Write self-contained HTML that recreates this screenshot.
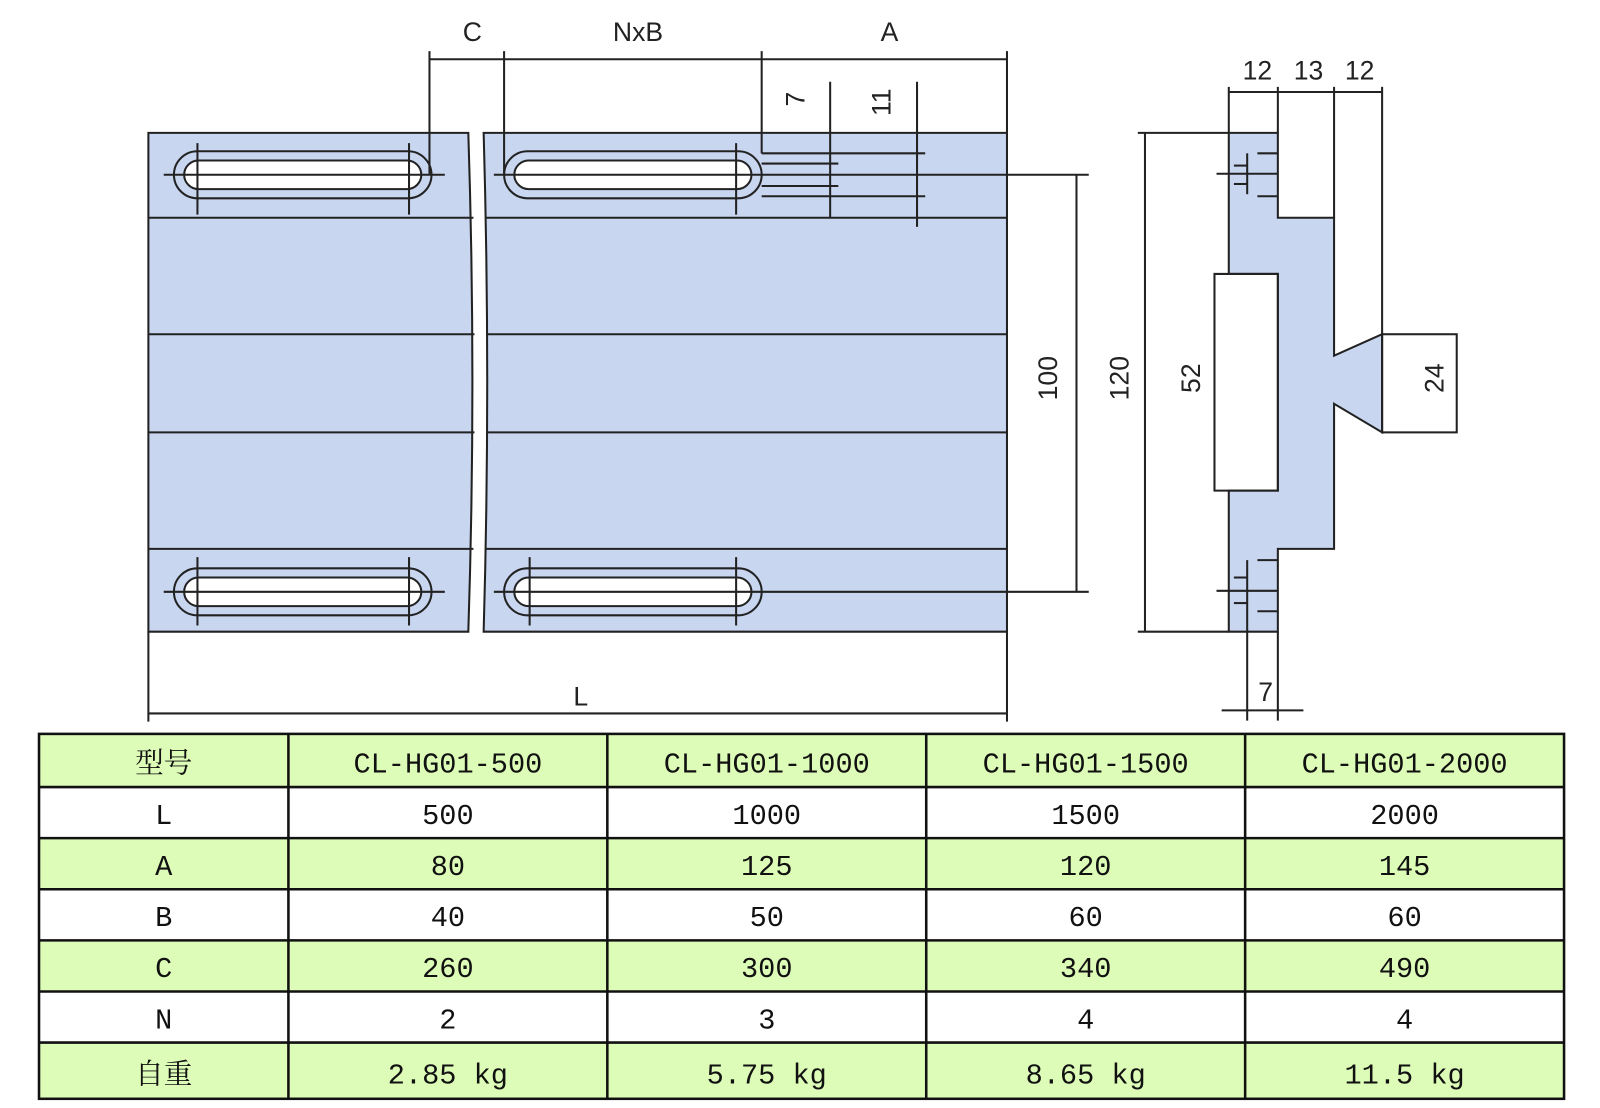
<!DOCTYPE html>
<html><head><meta charset="utf-8"><style>
html,body{margin:0;padding:0;background:#fff;}
svg{display:block;}
.d{font-family:"Liberation Sans",sans-serif;font-size:26px;fill:#222;}
.t{font-family:"Liberation Mono","Noto Serif CJK SC",monospace;font-size:28px;fill:#111;}
</style></head><body>
<svg width="1600" height="1108" viewBox="0 0 1565 1084" xmlns="http://www.w3.org/2000/svg">
<rect width="1565" height="1084" fill="#fff"/>
<g stroke="#222" stroke-width="2" fill="none">
<path d="M145,130 H458 Q466,374 458,618 H145 Z" fill="#c8d6f0"/>
<path d="M473,130 H985 V618 H473 Q480,374 473,130 Z" fill="#c8d6f0"/>
<line x1="145" y1="213" x2="463" y2="213"/><line x1="475" y1="213" x2="985" y2="213"/>
<line x1="145" y1="327" x2="464" y2="327"/><line x1="476" y1="327" x2="985" y2="327"/>
<line x1="145" y1="423" x2="464" y2="423"/><line x1="476" y1="423" x2="985" y2="423"/>
<line x1="145" y1="537" x2="463" y2="537"/><line x1="475" y1="537" x2="985" y2="537"/>
<g>
<rect x="170" y="148" width="252" height="46" rx="23"/><rect x="180" y="157" width="232" height="28" rx="14" fill="#fff"/>
<rect x="493" y="148" width="252" height="46" rx="23"/><rect x="503" y="157" width="232" height="28" rx="14" fill="#fff"/>
<rect x="170" y="556" width="252" height="46" rx="23"/><rect x="180" y="565" width="232" height="28" rx="14" fill="#fff"/>
<rect x="493" y="556" width="252" height="46" rx="23"/><rect x="503" y="565" width="232" height="28" rx="14" fill="#fff"/>
</g>
<line x1="160" y1="171" x2="435" y2="171"/><line x1="483" y1="171" x2="1065" y2="171"/>
<line x1="160" y1="579" x2="435" y2="579"/><line x1="483" y1="579" x2="1065" y2="579"/>
<line x1="193" y1="140" x2="193" y2="210"/><line x1="400" y1="140" x2="400" y2="210"/>
<line x1="720" y1="140" x2="720" y2="210"/>
<line x1="193" y1="545" x2="193" y2="612"/><line x1="400" y1="545" x2="400" y2="612"/>
<line x1="518" y1="545" x2="518" y2="612"/><line x1="720" y1="545" x2="720" y2="612"/>
<line x1="420" y1="58" x2="985" y2="58"/>
<line x1="420" y1="50" x2="420" y2="170"/><line x1="493" y1="50" x2="493" y2="170"/>
<line x1="745" y1="50" x2="745" y2="150"/><line x1="985" y1="50" x2="985" y2="130"/>
<line x1="812" y1="80" x2="812" y2="213"/><line x1="897" y1="80" x2="897" y2="222"/>
<line x1="745" y1="150" x2="905" y2="150"/><line x1="745" y1="160" x2="820" y2="160"/>
<line x1="745" y1="182" x2="820" y2="182"/><line x1="745" y1="192" x2="905" y2="192"/>
<line x1="1053" y1="171" x2="1053" y2="579"/>
<line x1="1120" y1="130" x2="1120" y2="618"/>
<line x1="1113" y1="130" x2="1202" y2="130"/><line x1="1113" y1="618" x2="1202" y2="618"/>
<line x1="145" y1="618" x2="145" y2="706"/><line x1="985" y1="618" x2="985" y2="706"/>
<line x1="145" y1="698" x2="985" y2="698"/>
<path d="M1202,130 H1250 V213 H1305 V348 L1352,327 V423 L1305,395 V537 H1250 V618 H1202 V480 H1250 V268 H1202 Z" fill="#c8d6f0"/>
<path d="M1188,268 H1250 V480 H1188 Z"/>
<rect x="1352" y="327" width="73" height="96"/>
<line x1="1352" y1="85" x2="1352" y2="327"/><line x1="1305" y1="85" x2="1305" y2="213"/>
<line x1="1250" y1="85" x2="1250" y2="130"/><line x1="1202" y1="85" x2="1202" y2="130"/>
<line x1="1202" y1="90" x2="1352" y2="90"/>
<line x1="1220" y1="150" x2="1220" y2="190"/><line x1="1190" y1="170" x2="1250" y2="170"/>
<line x1="1207" y1="162" x2="1220" y2="162"/><line x1="1207" y1="180" x2="1220" y2="180"/>
<line x1="1230" y1="150" x2="1250" y2="150"/><line x1="1230" y1="192" x2="1250" y2="192"/>
<line x1="1220" y1="548" x2="1220" y2="705"/><line x1="1250" y1="618" x2="1250" y2="705"/>
<line x1="1190" y1="578" x2="1250" y2="578"/>
<line x1="1207" y1="565" x2="1220" y2="565"/><line x1="1207" y1="590" x2="1220" y2="590"/>
<line x1="1230" y1="548" x2="1250" y2="548"/><line x1="1230" y1="598" x2="1250" y2="598"/>
<line x1="1195" y1="695" x2="1275" y2="695"/>
</g>
<g class="d" text-anchor="middle">
<text x="462" y="40">C</text><text x="624" y="40">NxB</text><text x="870" y="40">A</text>
<text x="568" y="690">L</text>
<text x="1230" y="78">12</text><text x="1280" y="78">13</text><text x="1330" y="78">12</text>
<text x="1238" y="686">7</text>
<text transform="translate(1034,370) rotate(-90)">100</text>
<text transform="translate(1104,370) rotate(-90)">120</text>
<text transform="translate(1174,370) rotate(-90)">52</text>
<text transform="translate(1412,370) rotate(-90)">24</text>
<text transform="translate(787,97) rotate(-90)">7</text>
<text transform="translate(871,100) rotate(-90)">11</text>
</g>
<g>
<rect x="38" y="718" width="1492" height="52" fill="#ddfcb8"/>
<rect x="38" y="820" width="1492" height="50" fill="#ddfcb8"/>
<rect x="38" y="920" width="1492" height="50" fill="#ddfcb8"/>
<rect x="38" y="1020" width="1492" height="55" fill="#ddfcb8"/>
<g stroke="#111" stroke-width="2.5">
<rect x="38" y="718" width="1492" height="357" fill="none"/>
<line x1="38" y1="770" x2="1530" y2="770"/><line x1="38" y1="820" x2="1530" y2="820"/>
<line x1="38" y1="870" x2="1530" y2="870"/><line x1="38" y1="920" x2="1530" y2="920"/>
<line x1="38" y1="970" x2="1530" y2="970"/><line x1="38" y1="1020" x2="1530" y2="1020"/>
<line x1="282" y1="718" x2="282" y2="1075"/><line x1="594" y1="718" x2="594" y2="1075"/>
<line x1="906" y1="718" x2="906" y2="1075"/><line x1="1218" y1="718" x2="1218" y2="1075"/>
</g>
<g class="t" text-anchor="middle">
<text x="160" y="756">型号</text><text x="438" y="756">CL-HG01-500</text><text x="750" y="756">CL-HG01-1000</text><text x="1062" y="756">CL-HG01-1500</text><text x="1374" y="756">CL-HG01-2000</text>
<text x="160" y="806">L</text><text x="438" y="806">500</text><text x="750" y="806">1000</text><text x="1062" y="806">1500</text><text x="1374" y="806">2000</text>
<text x="160" y="856">A</text><text x="438" y="856">80</text><text x="750" y="856">125</text><text x="1062" y="856">120</text><text x="1374" y="856">145</text>
<text x="160" y="906">B</text><text x="438" y="906">40</text><text x="750" y="906">50</text><text x="1062" y="906">60</text><text x="1374" y="906">60</text>
<text x="160" y="956">C</text><text x="438" y="956">260</text><text x="750" y="956">300</text><text x="1062" y="956">340</text><text x="1374" y="956">490</text>
<text x="160" y="1006">N</text><text x="438" y="1006">2</text><text x="750" y="1006">3</text><text x="1062" y="1006">4</text><text x="1374" y="1006">4</text>
<text x="160" y="1060">自重</text><text x="438" y="1060">2.85 kg</text><text x="750" y="1060">5.75 kg</text><text x="1062" y="1060">8.65 kg</text><text x="1374" y="1060">11.5 kg</text>
</g>
</g>
</svg>
</body></html>
